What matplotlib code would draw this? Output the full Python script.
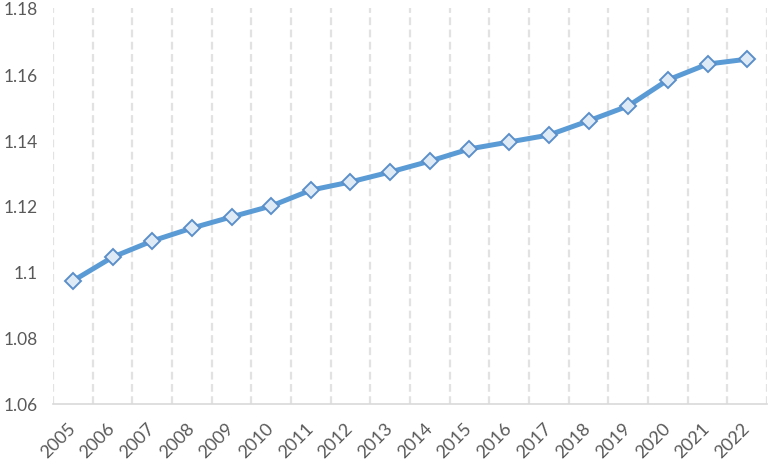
import matplotlib
matplotlib.use("Agg")
import matplotlib.pyplot as plt
import numpy as np

years = [str(y) for y in range(2005, 2023)]
values = [1.0973, 1.1045, 1.1094, 1.1133, 1.1167, 1.1200, 1.1248, 1.1273, 1.1303,
          1.1336, 1.1373, 1.1394, 1.1415, 1.1458, 1.1503, 1.1582, 1.1630, 1.1645]
yticks = [1.06, 1.08, 1.1, 1.12, 1.14, 1.16, 1.18]

plt.rcParams['font.family'] = ['Lato', 'DejaVu Sans']

fig = plt.figure(figsize=(7.7, 4.64), dpi=100)
ax = fig.add_axes([53 / 770, 1 - 405 / 464, 714 / 770, 396 / 464])

x = np.arange(len(years))
ax.plot(x, values, color='#5B9BD5', lw=3.6, solid_joinstyle='round', zorder=3)
ax.plot(x, values, ls='none', marker='D', ms=8.5, mfc='#DEEBF7', mec='#5B8FC9', mew=1.4, zorder=4)

ax.set_xlim(-0.5, len(years) - 0.5)
ax.set_ylim(1.06, 1.18)
ax.set_yticks(yticks)
ax.set_yticklabels(['1.06', '1.08', '1.1', '1.12', '1.14', '1.16', '1.18'])
ax.set_xticks(x)
ax.set_xticklabels(years, rotation=45, ha='right', va='center', rotation_mode='anchor')

for b in np.arange(-0.5, len(years), 1.0):
    ax.axvline(b, color='#E2E2E2', lw=1.6, ls=(0, (3.5, 2)), zorder=1)

for s in ['top', 'right', 'left']:
    ax.spines[s].set_visible(False)
ax.spines['bottom'].set_color('#D9D9D9')
ax.spines['bottom'].set_linewidth(1.2)
ax.tick_params(axis='y', length=0, labelsize=12.5, colors='#595959', pad=11)
ax.tick_params(axis='x', length=0, labelsize=13, colors='#595959', pad=15)

fig.savefig('out.png', dpi=100)
